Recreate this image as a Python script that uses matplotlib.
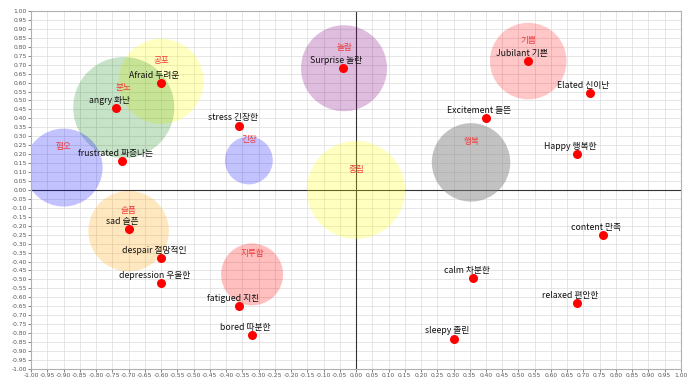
import numpy as np
import matplotlib
matplotlib.use("Agg")
import matplotlib.pyplot as plt

plt.rcParams['font.family'] = ['Noto Sans CJK KR', 'DejaVu Sans']

# Emotion words (points)
words = ['Afraid 두려운', 'angry 화난', 'frustrated 짜증나는', 'stress 긴장한', 'Surprise 놀란',
         'Jubilant 기쁜', 'Elated 신이난', 'Excitement 들뜬', 'Happy 행복한', 'sad 슬픈',
         'despair 절망적인', 'depression 우울한', 'fatigued 지친', 'bored 따분한', 'sleepy 졸린',
         'calm 차분한', 'content 만족', 'relaxed 편안한']
word_x = [-0.60, -0.74, -0.72, -0.36, -0.04, 0.53, 0.72, 0.40, 0.68, -0.70,
          -0.60, -0.60, -0.36, -0.32, 0.30, 0.36, 0.76, 0.68]
word_y = [0.60, 0.46, 0.16, 0.36, 0.68, 0.72, 0.54, 0.40, 0.20, -0.22,
          -0.38, -0.52, -0.65, -0.81, -0.83, -0.49, -0.25, -0.63]

# Emotion categories (circles)
categories = ['공포', '분노', '혐오', '긴장', '놀람', '중립', '기쁨', '행복', '슬픔', '지루함']
cat_x = [-0.60, -0.715, -0.90, -0.33, -0.037, 0.0, 0.53, 0.354, -0.70, -0.32]
cat_y = [0.607, 0.46, 0.125, 0.165, 0.68, 0.0, 0.72, 0.154, -0.23, -0.472]
cat_size = [3750, 5300, 3150, 1190, 3830, 4980, 3040, 3190, 3360, 1990]
cat_color = ['yellow', 'green', 'blue', 'blue', 'purple', 'yellow', 'red', 'gray', 'orange', 'red']
cat_alpha = [0.25, 0.22, 0.24, 0.24, 0.26, 0.25, 0.22, 0.48, 0.25, 0.25]

ticks = np.round(np.arange(-1.0, 1.0001, 0.05), 2)

fig = plt.figure(figsize=(6.92, 3.78), dpi=100)
ax = fig.add_axes([0.045, 0.024, 0.939, 0.947])
ax.set_xlim(-1, 1)
ax.set_ylim(-1, 1)

ax.set_xticks(ticks)
ax.set_yticks(ticks)
ax.set_xticklabels(['%.2f' % t for t in ticks], fontsize=4.3, color='#333333', family='DejaVu Sans')
ax.set_yticklabels(['%.2f' % t for t in ticks], fontsize=4.3, color='#333333', family='DejaVu Sans')
ax.tick_params(length=2, width=0.5, pad=1, colors='#555555')
ax.grid(True, color='#dcdcdc', linewidth=0.5)
ax.set_axisbelow(True)
for s in ax.spines.values():
    s.set_color('#b0b0b0')
    s.set_linewidth(0.8)

ax.axhline(0, color='#333333', linewidth=0.8, zorder=1)
ax.axvline(0, color='#333333', linewidth=0.8, zorder=1)

for x, y, s, c, a in zip(cat_x, cat_y, cat_size, cat_color, cat_alpha):
    ax.scatter([x], [y], s=s, color=c, alpha=a, edgecolors='none', zorder=2)

ax.scatter(word_x, word_y, s=30, color='red', zorder=4)

for x, y, name in zip(cat_x, cat_y, categories):
    ax.text(x, y + 0.115, name, ha='center', va='center', fontsize=6.2, color='#ee3b3b', zorder=5)

for x, y, name in zip(word_x, word_y, words):
    ax.text(x - 0.02, y + 0.042, name, ha='center', va='center', fontsize=6.3, color='#111111', zorder=5)

fig.savefig('out.png', dpi=100)
